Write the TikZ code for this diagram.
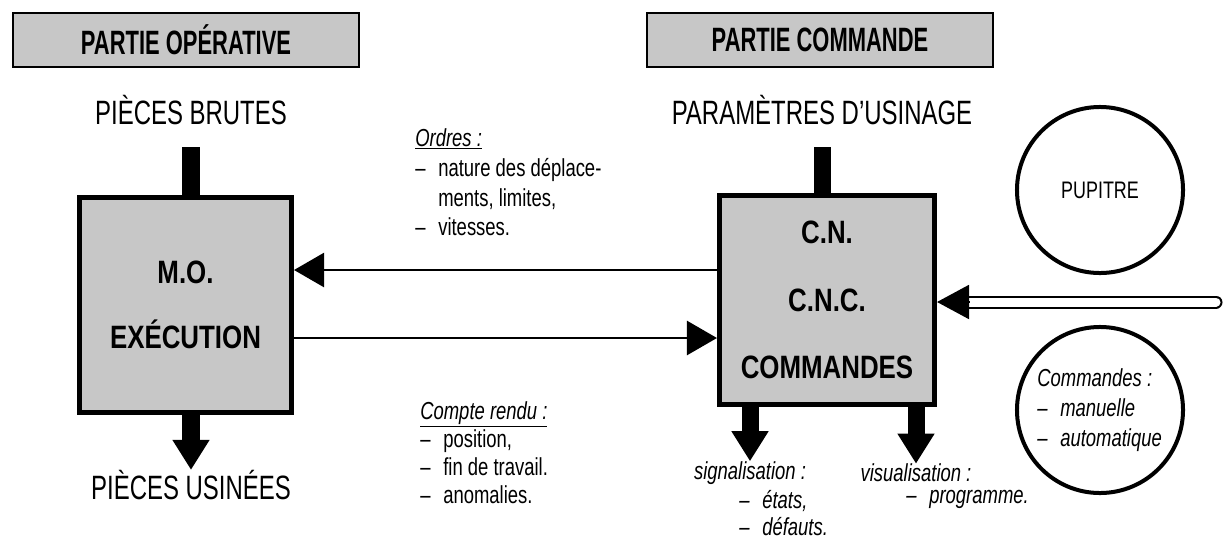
\documentclass[tikz,border=0pt]{standalone}
\usepackage{fontspec}
\setmainfont{Liberation Sans}[FakeStretch=0.75]
\newfontfamily\bigfont{Liberation Sans}[FakeStretch=0.71]
\newfontfamily\bannerfont{Liberation Sans}[FakeStretch=0.65]
\newfontfamily\boxfont{Liberation Sans}[FakeStretch=0.8]
\usepackage{tikz}
\usetikzlibrary{positioning,arrows.meta}

\newcommand{\tiret}{\makebox[0.575cm][l]{–}}

\begin{document}
\begin{tikzpicture}[
    x=0.025cm, y=-0.025cm,
    banner/.style={draw=black, line width=0.05cm, fill=black!22, minimum width=8.65cm, minimum height=1.35cm,
      font=\bannerfont\bfseries\fontsize{24}{26}\selectfont},
    big/.style={font=\bigfont\fontsize{24}{26}\selectfont, inner sep=0pt},
    unit/.style={draw=black, line width=0.125cm, fill=black!22, align=center,
      font=\boxfont\bfseries\fontsize{23}{46}\selectfont},
    small/.style={font=\fontsize{17.5}{21.3}\selectfont, align=left, inner sep=0pt},
    smallit/.style={small, font=\fontsize{17.5}{19.5}\selectfont\itshape},
    ring/.style={circle, draw=black, line width=0.1cm, minimum size=4.15cm, inner sep=0pt},
    stem/.style={line width=0.425cm},
    bigarr/.style={stem, -{Triangle[width=0.875cm, length=0.75cm]}},
    flow/.style={line width=0.0625cm, -{Triangle[width=0.85cm, length=0.75cm]}},
  ]
    \useasboundingbox (0,0) rectangle (1224,547);

    % titres
    \node[banner] (po) at (186,40) {PARTIE OPÉRATIVE};
    \node[banner] (pc) at (820,40) {PARTIE COMMANDE};

    % partie operative
    \node[big] (brutes) at (191,110) {PIÈCES BRUTES};
    \node[unit, minimum width=5.3cm, minimum height=5.375cm] (mo) at (185.5,305) {M.O.\\EXÉCUTION};
    \node[big] (usinees) at (191,485) {PIÈCES USINÉES};

    % partie commande
    \node[big] (param) at (822,110) {PARAMÈTRES D’USINAGE};
    \node[unit, minimum width=5.375cm, minimum height=5.225cm,
      font=\boxfont\bfseries\fontsize{23}{48}\selectfont] (cn) at (827,300) {C.N.\\C.N.C.\\COMMANDES};
    \node[smallit] (sig) at (750,473) {signalisation :};
    \node[smallit, anchor=north west] (sigl) at (739,490) {\tiret états,\\\tiret défauts.};
    \node[smallit] (vis) at (916,473) {visualisation :};
    \node[smallit, anchor=north west] (visl) at (906,490) {\tiret programme.};

    % pupitre
    \node[ring, font=\fontsize{17}{20}\selectfont] (pup) at (1100,190) {PUPITRE};
    \node[ring] (cmd) at (1100,410) {};
    \node[smallit, anchor=north west, font=\fontsize{17.5}{21.3}\selectfont\itshape] (cmdl) at (1037,368)
      {Commandes :\\\tiret manuelle\\\tiret automatique};

    % ordres / compte rendu
    \node[small, anchor=north west] (ord) at (415,128)
      {\underline{\textit{Ordres :}}\\\tiret nature des déplace-\\\hspace*{0.575cm}ments, limites,\\\tiret vitesses.};
    \node[small, anchor=north west, font=\fontsize{17.5}{20}\selectfont] (cr) at (420,401)
      {\underline{\textit{Compte rendu :}}\\\tiret position,\\\tiret fin de travail.\\\tiret anomalies.};

    \coordinate (yord) at (0,270);
    \coordinate (ycr) at (0,338);
    \coordinate (pupin) at (1216,302);

    \draw[stem] ([yshift=-0.55cm]brutes.south) -- (brutes.south |- mo.north);
    \draw[stem] ([yshift=-0.55cm]param.south) -- (param.south |- cn.north);
    \draw[bigarr] (usinees.north |- mo.south) -- (usinees.north);
    \draw[bigarr] (sig.north |- cn.south) -- (sig.north);
    \draw[bigarr] (vis.north |- cn.south) -- (vis.north);

    \draw[flow] (cn.west |- yord) -- (mo.east |- yord);
    \draw[flow] (mo.east |- ycr) -- (cn.west |- ycr);

    \draw[line width=0.05cm, double, double distance=0.225cm, line cap=round] (pupin) -- ([xshift=0.8cm]cn.east |- pupin);
    \draw[line width=0.05cm, -{Triangle[width=0.85cm, length=0.8cm]}] ([xshift=0.8cm]cn.east |- pupin) -- (cn.east |- pupin);
  \end{tikzpicture}
\end{document}
